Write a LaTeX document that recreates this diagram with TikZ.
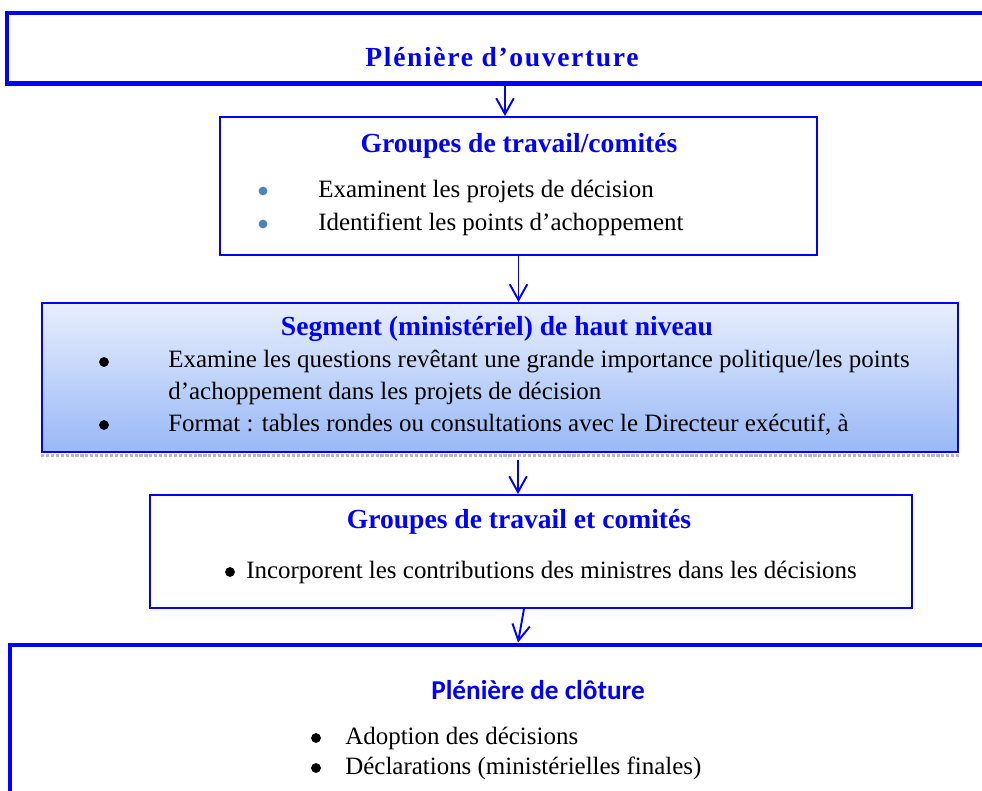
\documentclass[tikz,border=0pt]{standalone}
\usepackage{fontspec}
\setmainfont{Liberation Serif}
\newfontfamily\clotfont{Carlito}
\usetikzlibrary{arrows.meta,fit}
\definecolor{pblue}{RGB}{0,0,255}
\definecolor{dotblue}{RGB}{79,129,189}
\definecolor{segtop}{RGB}{232,239,253}
\definecolor{segbot}{RGB}{152,184,246}
\begin{document}
\begin{tikzpicture}[x=0.02cm,y=-0.02cm,
    bigbox/.style={draw=pblue,line width=2.8pt,inner sep=0pt},
    smallbox/.style={draw=pblue,line width=1.1pt,inner sep=0pt},
    title/.style={text=pblue,inner sep=0pt,font=\fontsize{15.7}{18}\selectfont\bfseries},
    item/.style={anchor=west,inner sep=0pt,font=\fontsize{14.2}{17}\selectfont},
    blt/.style={circle,fill=black,inner sep=0pt,minimum size=5.6pt},
    flow/.style={pblue,line width=1.1pt,-{Straight Barb[length=9pt,width=10pt,line width=1.1pt]}}]
      \useasboundingbox (0,0) rectangle (982,790);%

      \node[bigbox,fit={(7,13) (1003,83.5)}] (O) {};%
      \node[smallbox,fit={(220,117) (817,255)}] (G1) {};%
      \node[smallbox,top color=segtop,bottom color=segbot,fit={(42,303) (958,452)}] (S) {};%
      \node[smallbox,fit={(150,495) (912,608)}] (G2) {};%
      \node[bigbox,fit={(10,645) (1026,820)}] (C) {};%

      \draw[gray!55,densely dotted,line width=1.8pt] ([yshift=-1.6pt]S.south west) -- ([yshift=-1.6pt]S.south east);%

      \node[title] (OT) at (502,57) {\addfontfeature{LetterSpace=6}Plénière d’ouverture};%

      \node[title] (G1T) at (519,146) {Groupes de travail/comités};%
      \node[blt,fill=dotblue,minimum size=5pt] (G1b1) at (263,191) {};%
      \node[blt,fill=dotblue,minimum size=5pt] (G1b2) at (263,224) {};%
      \node[item] (G1i1) at (318,191) {Examinent les projets de décision};%
      \node[item] (G1i2) at (318,224) {Identifient les points d’achoppement};%

      \node[title] (ST) at (497,329) {Segment (ministériel) de haut niveau};%
      \node[blt] (Sb1) at (104,362) {};%
      \node[blt] (Sb2) at (104,425) {};%
      \node[item] (Si1) at (168,362) {Examine les questions revêtant une grande importance politique/les points};%
      \node[item] (Si1b) at (168,393) {d’achoppement dans les projets de décision};%
      \node[item] (Si2) at (168,425) {Format : tables rondes ou consultations avec le Directeur exécutif, à};%

      \node[title] (G2T) at (519,522) {Groupes de travail et comités};%
      \node[blt] (G2b1) at (230,572) {};%
      \node[item] (G2i1) at (246,572) {Incorporent les contributions des ministres dans les décisions};%

      \node[title,font=\clotfont\fontsize{15.5}{18}\selectfont\bfseries] (CT) at (538,690) {Plénière de clôture};%
      \node[blt] (Cb1) at (316,738) {};%
      \node[blt] (Cb2) at (316,768) {};%
      \node[item] (Ci1) at (345,738) {Adoption des décisions};%
      \node[item] (Ci2) at (345,768) {Déclarations (ministérielles finales)};%

      \coordinate (A3) at (518,460);%
      \draw[flow] (O.south) -- (O.south |- G1.north);%
      \draw[flow] (G1.south) -- (G1.south |- S.north);%
      \draw[flow] (A3) -- (A3 |- G2.north);%
      \draw[flow] ([xshift=-4pt]G2.south) -- (C.north);%
    \end{tikzpicture}
\end{document}
